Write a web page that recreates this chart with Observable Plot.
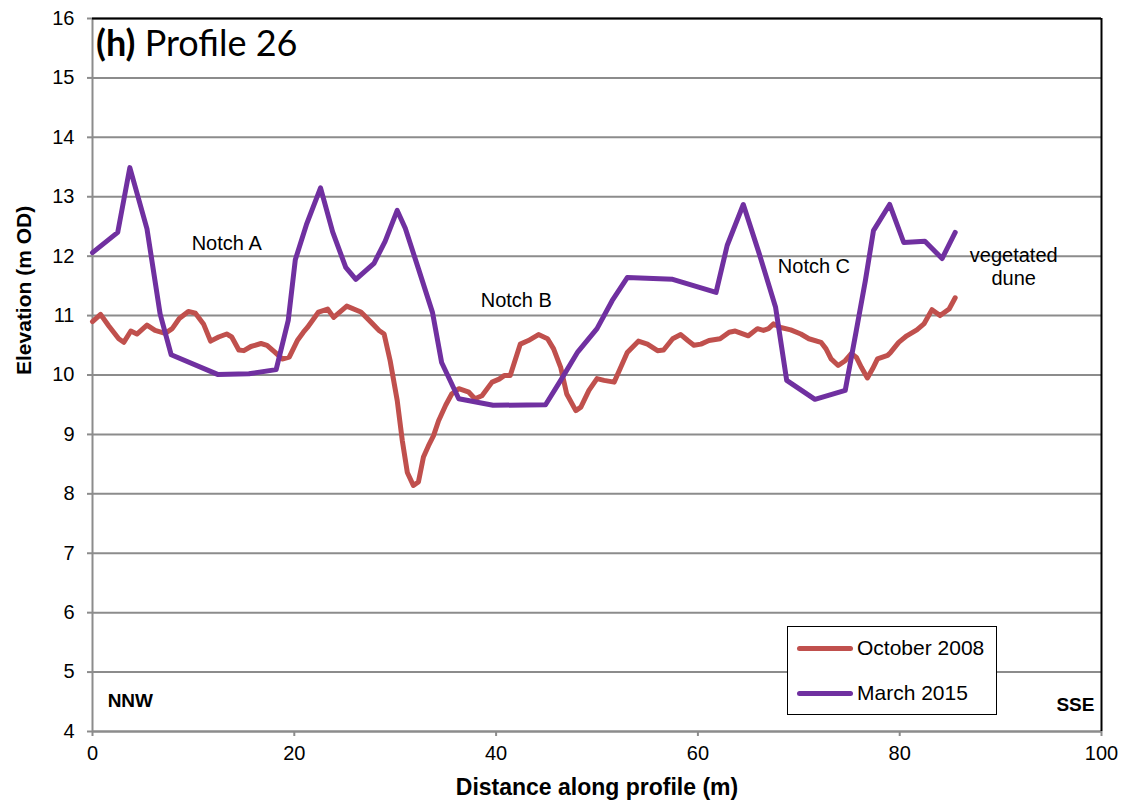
<!DOCTYPE html>
<html>
<head>
<meta charset="utf-8">
<script src="https://cdn.jsdelivr.net/npm/d3@7"></script>
<script src="https://cdn.jsdelivr.net/npm/@observablehq/plot@0.6"></script>
<style>
  html, body { margin: 0; padding: 0; background: #fff; }
  #wrap { position: relative; width: 1125px; height: 808px; }
  #title { position: absolute; left: 96px; top: 24px; font-family: Lato, "Open Sans", sans-serif; font-size: 36px; line-height: 1; color: #000; white-space: nowrap; }
  #legend { position: absolute; left: 787px; top: 626px; width: 208px; height: 87px; border: 1.5px solid #000; background: #fff; font-family: "Liberation Sans", Arial, sans-serif; font-size: 21px; }
  .lg { position: absolute; left: 9px; display: flex; align-items: center; height: 24px; }
  .lg span.sw { display: inline-block; width: 56px; height: 5px; border-radius: 3px; margin-right: 4px; }
</style>
</head>
<body>
<div id="wrap"></div>
<script>
// ---- data ----
const oct2008Distance = [0,0.8,1.6,2.6,3.1,3.8,4.4,5.4,6.2,7.2,7.9,8.6,9.5,10.2,11.0,11.7,12.5,13.3,13.8,14.5,15.0,15.7,16.7,17.3,18.1,18.8,19.5,20.3,20.9,21.3,22.4,23.3,23.9,25.2,26.6,27.6,28.4,28.9,29.5,30.2,30.7,31.2,31.8,32.3,32.8,33.3,33.8,34.3,35.0,35.6,36.3,37.3,37.9,38.6,39.6,40.3,40.8,41.4,42.4,43.2,44.2,45.1,45.7,46.4,47.0,47.9,48.4,49.2,50.0,50.7,51.7,52.2,53.0,54.1,55.0,56.0,56.6,57.5,58.3,59.0,59.6,60.3,61.1,62.2,63.1,63.7,65.0,65.9,66.5,67.0,67.5,68.2,69.2,70.2,71.0,72.2,72.7,73.2,73.9,74.6,75.2,75.7,76.2,76.8,77.3,77.8,78.8,79.1,79.9,80.7,81.7,82.4,83.2,84.0,84.9,85.5];
const oct2008Elevation = [10.90,11.02,10.83,10.61,10.55,10.74,10.69,10.84,10.75,10.70,10.78,10.95,11.07,11.04,10.86,10.57,10.64,10.69,10.64,10.42,10.41,10.48,10.53,10.50,10.38,10.27,10.30,10.58,10.72,10.80,11.06,11.11,10.97,11.16,11.06,10.89,10.75,10.69,10.24,9.57,8.90,8.36,8.14,8.20,8.62,8.81,8.98,9.23,9.49,9.68,9.77,9.71,9.60,9.65,9.88,9.93,9.99,9.99,10.52,10.58,10.68,10.61,10.44,10.13,9.68,9.40,9.46,9.74,9.94,9.91,9.88,10.07,10.38,10.57,10.52,10.41,10.42,10.61,10.68,10.58,10.50,10.52,10.58,10.61,10.72,10.74,10.66,10.78,10.75,10.78,10.86,10.80,10.76,10.69,10.61,10.55,10.44,10.27,10.16,10.24,10.36,10.30,10.13,9.95,10.10,10.27,10.33,10.38,10.55,10.66,10.76,10.86,11.10,11.00,11.11,11.30];

const mar2015Distance = [0,2.5,3.7,5.4,6.7,7.8,12.4,15.5,18.2,19.4,20.1,21.2,22.6,23.8,25.1,26.1,27.9,29.0,30.2,31.0,32.3,33.7,34.6,36.3,39.7,44.9,46.4,48.1,50.0,51.5,53.0,57.5,61.8,62.9,64.5,66.1,67.7,68.8,71.6,74.6,75.7,76.6,77.4,79.0,80.4,82.5,84.2,85.5];
const mar2015Elevation = [12.06,12.40,13.49,12.46,11.03,10.34,10.01,10.02,10.09,10.92,11.94,12.53,13.15,12.41,11.81,11.61,11.88,12.25,12.77,12.47,11.79,11.05,10.21,9.60,9.49,9.50,9.91,10.39,10.78,11.25,11.64,11.61,11.39,12.18,12.87,12.03,11.14,9.91,9.59,9.74,10.75,11.59,12.43,12.87,12.23,12.25,11.96,12.40];

const seriesNames = ["October 2008", "March 2015"];
const seriesColors = ["#C0504D", "#7030A0"];

const xTicks = [0, 20, 40, 60, 80, 100];
const yTicks = [4, 5, 6, 7, 8, 9, 10, 11, 12, 13, 14, 15, 16];

const notchLabels = ["Notch A", "Notch B", "Notch C", "vegetated\ndune"];
const notchX = [13.3, 42.0, 71.5, 91.3];
const notchY = [12.23, 11.27, 11.84, 11.84];

const directionLabels = ["NNW", "SSE"];
const directionX = [1.5, 99.3];
const directionY = [4.52, 4.44];

// ---- build tables ----
const lineData = [
  ...oct2008Distance.map((d, i) => ({series: seriesNames[0], x: d, y: oct2008Elevation[i]})),
  ...mar2015Distance.map((d, i) => ({series: seriesNames[1], x: d, y: mar2015Elevation[i]}))
];
const notes = notchLabels.map((t, i) => ({t, x: notchX[i], y: notchY[i]}));
const dirs = directionLabels.map((t, i) => ({t, x: directionX[i], y: directionY[i]}));

const font = "'Liberation Sans', Arial, sans-serif";

const chart = Plot.plot({
  width: 1125,
  height: 808,
  marginLeft: 92,
  marginRight: 24,
  marginTop: 18,
  marginBottom: 77,
  style: {fontFamily: font, fontSize: "20px", color: "#000", background: "#fff", overflow: "visible"},
  x: {domain: [0, 100], ticks: xTicks},
  y: {domain: [4, 16], ticks: yTicks},
  color: {domain: seriesNames, range: seriesColors},
  marks: [
    Plot.gridY(yTicks, {stroke: "#8c8c8c", strokeOpacity: 1, strokeWidth: 2}),
    Plot.ruleX([0], {stroke: "#8c8c8c", strokeWidth: 2}),
    Plot.ruleY([4], {stroke: "#8c8c8c", strokeWidth: 2}),
    Plot.ruleY([16], {stroke: "#000", strokeWidth: 2}),
    Plot.ruleX([100], {stroke: "#000", strokeWidth: 2}),
    Plot.axisY(yTicks, {tickSize: 5, tickPadding: 13, stroke: "#8c8c8c", strokeWidth: 2, label: null, fontSize: 20, fill: "#000", tickFormat: d => String(d)}),
    Plot.axisX(xTicks, {tickSize: 5, tickPadding: 9, stroke: "#8c8c8c", strokeWidth: 2, label: null, fontSize: 20, fill: "#000", tickFormat: d => String(d)}),
    Plot.line(lineData, {x: "x", y: "y", z: "series", stroke: "series", strokeWidth: 5, strokeLinejoin: "round", strokeLinecap: "round"}),
    Plot.text(notes, {x: "x", y: "y", text: "t", fontSize: 20, fill: "#000", lineHeight: 1.15}),
    Plot.text(dirs.slice(0, 1), {x: "x", y: "y", text: "t", textAnchor: "start", fontSize: 19, fontWeight: "bold", fill: "#000"}),
    Plot.text(dirs.slice(1), {x: "x", y: "y", text: "t", textAnchor: "end", fontSize: 19, fontWeight: "bold", fill: "#000"}),
    Plot.text(["Elevation (m OD)"], {frameAnchor: "left", dx: -68, rotate: -90, fontSize: 21, fontWeight: "bold", fill: "#000"}),
    Plot.text(["Distance along profile (m)"], {frameAnchor: "bottom", dy: 63, fontSize: 23, fontWeight: "bold", fill: "#000"})
  ]
});

const wrap = document.getElementById("wrap");
wrap.appendChild(chart);

const title = document.createElement("div");
title.id = "title";
title.innerHTML = "<b>(h)</b> Profile 26";
wrap.appendChild(title);

const legend = document.createElement("div");
legend.id = "legend";
seriesNames.forEach((name, i) => {
  const row = document.createElement("div");
  row.className = "lg";
  row.style.top = (i === 0 ? 9 : 54) + "px";
  row.innerHTML = `<span class="sw" style="background:${seriesColors[i]}"></span><span>${name}</span>`;
  legend.appendChild(row);
});
wrap.appendChild(legend);
</script>
</body>
</html>
